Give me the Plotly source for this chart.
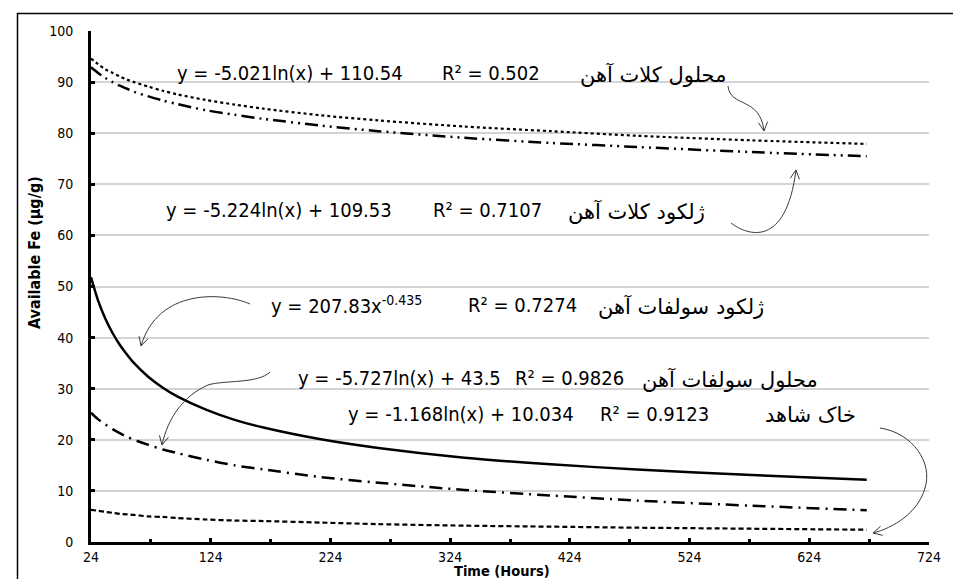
import math
import plotly.graph_objects as go

# ---------------- data ----------------
hours = [24, 30, 36, 42, 48, 54, 60, 72, 84, 96, 120, 144, 168, 216, 264, 336, 408, 480, 576, 672]
chelate_solution = [94.6, 93.5, 92.5, 91.8, 91.1, 90.5, 90.0, 89.1, 88.3, 87.6, 86.5, 85.6, 84.8,
                    83.5, 82.5, 81.3, 80.4, 79.5, 78.6, 77.9]
chelate_gel = [92.9, 91.8, 90.8, 90.0, 89.3, 88.7, 88.1, 87.2, 86.4, 85.7, 84.5, 83.6, 82.8,
               81.5, 80.4, 79.1, 78.1, 77.3, 76.3, 75.5]
sulfate_gel = [51.8, 47.2, 43.7, 40.9, 38.6, 36.7, 35.0, 32.3, 30.2, 28.5, 25.9, 23.9, 22.4,
               20.1, 18.4, 16.5, 15.2, 14.2, 13.1, 12.2]
sulfate_solution = [25.3, 24.0, 23.0, 22.1, 21.3, 20.6, 20.0, 19.0, 18.1, 17.4, 16.1, 15.0, 14.2,
                    12.7, 11.6, 10.2, 9.1, 8.1, 7.1, 6.2]
control_soil = [6.3, 6.1, 5.9, 5.7, 5.5, 5.4, 5.3, 5.0, 4.9, 4.7, 4.4, 4.2, 4.1,
                3.8, 3.5, 3.2, 3.0, 2.8, 2.6, 2.4]

x_ticks = [24, 124, 224, 324, 424, 524, 624, 724]
y_ticks = [0, 10, 20, 30, 40, 50, 60, 70, 80, 90, 100]

equations = [
    "y = -5.021ln(x) + 110.54",
    "y = -5.224ln(x) + 109.53",
    "y = 207.83x<sup>-0.435</sup>",
    "y = -5.727ln(x) + 43.5",
    "y = -1.168ln(x) + 10.034",
]
r2_texts = ["R² = 0.502", "R² = 0.7107", "R² = 0.7274", "R² = 0.9826", "R² = 0.9123"]
names = ["محلول کلات آهن", "ژلکود کلات آهن", "ژلکود سولفات آهن", "محلول سولفات آهن", "خاک شاهد"]

x_title = "Time (Hours)"
y_title = "Available Fe (µg/g)"

# ---------------- layout helpers ----------------
FONT = "DejaVu Sans Condensed, DejaVu Sans, sans-serif"
PFONT = "DejaVu Sans, sans-serif"
L, R, T, B = 83, 921, 23, 534   # plot-area pixel box
W, H = 961, 579


def P(X, Y):
    return (X - L) / (R - L), (B - Y) / (B - T)


fig = go.Figure()

series = [
    (chelate_solution, dict(color="black", width=2.2, dash="dot")),
    (chelate_gel, dict(color="black", width=2.5, dash="13px,5px,2px,5px,2px,5px")),
    (sulfate_gel, dict(color="black", width=2.5)),
    (sulfate_solution, dict(color="black", width=2.5, dash="13px,6px,2px,6px")),
    (control_soil, dict(color="black", width=2.2, dash="5px,3px")),
]
for vals, ln in series:
    fig.add_trace(go.Scatter(x=hours, y=vals, mode="lines",
                             line=dict(shape="spline", smoothing=0.8, **ln),
                             hoverinfo="skip"))

# text rows: (center y, equation left x, R2 left x, name right x)
rows = [
    (65, 167, 432, 720),
    (202, 156, 423, 699),
    (297, 261, 458, 758),
    (370, 288, 505, 812),
    (406, 338, 590, 850),
]
anns = []
TF = dict(family=FONT, size=20, color="black")
NF = dict(family=PFONT, size=21, color="black")
for (yy, xe, xr, xn), eq, r2, nm in zip(rows, equations, r2_texts, names):
    px, py = P(xe, yy)
    anns.append(dict(x=px, y=py, xref="paper", yref="paper", text=eq, showarrow=False,
                     xanchor="left", yanchor="middle", font=TF))
    px, py = P(xr, yy)
    anns.append(dict(x=px, y=py, xref="paper", yref="paper", text=r2, showarrow=False,
                     xanchor="left", yanchor="middle", font=TF))
    px, py = P(xn, yy + 1)
    anns.append(dict(x=px, y=py, xref="paper", yref="paper", text=nm, showarrow=False,
                     xanchor="right", yanchor="middle", font=NF))

# axis titles
px, py = P(494, 563)
anns.append(dict(x=px, y=py, xref="paper", yref="paper", text="<b>%s</b>" % x_title,
                 showarrow=False, xanchor="center", yanchor="middle",
                 font=dict(family=FONT, size=14.5, color="black")))
px, py = P(26, 245)
anns.append(dict(x=px, y=py, xref="paper", yref="paper", text="<b>%s</b>" % y_title,
                 showarrow=False, xanchor="center", yanchor="middle", textangle=-90,
                 font=dict(family=FONT, size=16, color="black")))

# curved arrows (pixel control points)
arrows = [
    [(720, 78), (722, 100), (752, 88), (756, 123)],
    [(723, 215), (740, 228), (778, 240), (788, 162)],
    [(242, 296), (215, 284), (150, 280), (133, 338)],
    [(262, 364), (250, 376), (215, 372), (200, 377), (175, 388), (160, 410), (154, 437)],
    [(872, 420), (905, 425), (925, 455), (917, 480), (910, 505), (885, 520), (865, 525)],
]
shapes = []
AC = "#3a3a3a"
for pts in arrows:
    q = [P(*p) for p in pts]
    path = "M %f,%f" % q[0]
    for i in range(1, len(q), 3):
        path += " C %f,%f %f,%f %f,%f" % (q[i] + q[i + 1] + q[i + 2])
    shapes.append(dict(type="path", xref="paper", yref="paper", path=path,
                       line=dict(color=AC, width=1)))
    tip = pts[-1]
    prev = pts[-2]
    ang = math.atan2(tip[1] - prev[1], tip[0] - prev[0])
    arms = []
    for s in (1, -1):
        a = ang + math.pi + s * 0.48
        arms.append((tip[0] + 10 * math.cos(a), tip[1] + 10 * math.sin(a)))
    a1, tp, a2 = P(*arms[0]), P(*tip), P(*arms[1])
    shapes.append(dict(type="path", xref="paper", yref="paper",
                       path="M %f,%f L %f,%f L %f,%f" % (a1 + tp + a2),
                       line=dict(color=AC, width=1)))

# outer frame
fx0, fy0 = P(9.5, 5.5)
fx1, fy1 = P(990, 620)
shapes.append(dict(type="rect", xref="paper", yref="paper", x0=fx0, y0=fy1, x1=fx1, y1=fy0,
                   line=dict(color="black", width=1.5), fillcolor="rgba(0,0,0,0)"))

fig.update_layout(
    width=W, height=H,
    margin=dict(l=L, r=W - R, t=T, b=H - B),
    plot_bgcolor="white", paper_bgcolor="white",
    showlegend=False,
    font=dict(family=FONT, color="black", size=14),
    annotations=anns, shapes=shapes,
    xaxis=dict(range=[24, 724], tickvals=x_ticks, ticktext=[str(v) for v in x_ticks],
               ticks="inside", ticklen=4, tickwidth=3, tickcolor="black",
               showline=True, linewidth=3, linecolor="black",
               showgrid=False, zeroline=False, ticklabelstandoff=0,
               tickfont=dict(family=FONT, size=14, color="black"),
               minor=dict(ticks="inside", ticklen=3, tickwidth=3, tickcolor="black",
                          tick0=74, dtick=100, showgrid=False)),
    yaxis=dict(range=[0, 100], tickvals=y_ticks,
               ticks="inside", ticklen=4, tickwidth=3, tickcolor="black",
               showline=True, linewidth=3, linecolor="black",
               showgrid=True, gridcolor="#d4d4d4", gridwidth=1.5, zeroline=False,
               ticklabelstandoff=12,
               tickfont=dict(family=FONT, size=14, color="black")),
)

fig.write_html("out.html")
